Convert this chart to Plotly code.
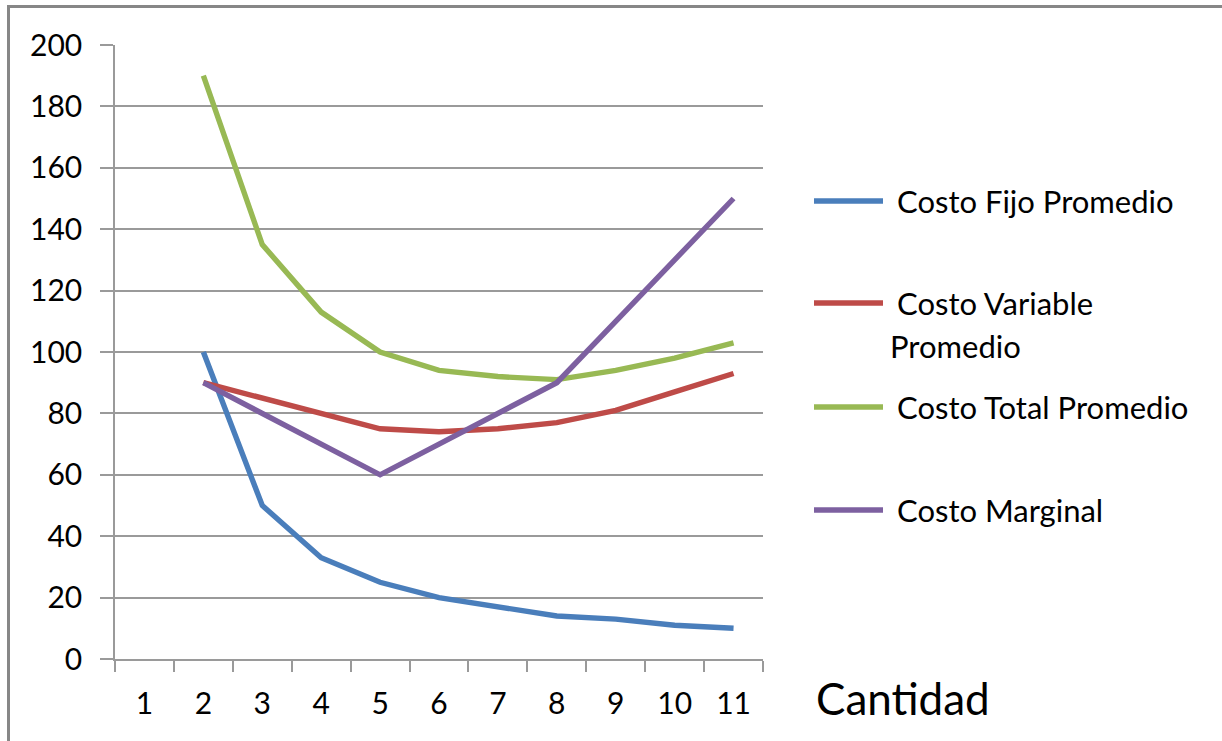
import plotly.graph_objects as go

# Quantity categories shown on the horizontal axis
cantidad = [1, 2, 3, 4, 5, 6, 7, 8, 9, 10, 11]
x_datos = [2, 3, 4, 5, 6, 7, 8, 9, 10, 11]

# Cost curves (one value per quantity from 2 to 11)
costo_fijo_promedio = [100, 50, 33, 25, 20, 17, 14, 13, 11, 10]
costo_variable_promedio = [90, 85, 80, 75, 74, 75, 77, 81, 87, 93]
costo_total_promedio = [190, 135, 113, 100, 94, 92, 91, 94, 98, 103]
costo_marginal = [90, 80, 70, 60, 70, 80, 90, 110, 130, 150]

series_nombres = ["Costo Fijo Promedio", "Costo Variable<br>Promedio",
                  "Costo Total Promedio", "Costo Marginal"]
series_valores = [costo_fijo_promedio, costo_variable_promedio,
                  costo_total_promedio, costo_marginal]
series_colores = ["#4a7ebb", "#be4b48", "#98b954", "#7d60a0"]

y_ticks = [0, 20, 40, 60, 80, 100, 120, 140, 160, 180, 200]

W, H = 1222, 741
L, R, T, B = 115, 763, 45, 659  # plot area in pixels

def px(x):
    return (x - L) / (R - L)

def py(y):
    return (B - y) / (B - T)

FONT = "Lato"
GRID = "#9a9a9a"

fig = go.Figure()
for nombre, valores, color in zip(series_nombres, series_valores, series_colores):
    fig.add_trace(go.Scatter(
        x=x_datos, y=valores, mode="lines", name=nombre,
        line=dict(color=color, width=5.4),
        showlegend=False,
    ))

fig.update_layout(
    width=W, height=H,
    margin=dict(l=L, r=W - R, t=T, b=H - B, pad=0),
    paper_bgcolor="white", plot_bgcolor="white",
    font=dict(family=FONT, color="#000000"),
    xaxis=dict(
        range=[0.5, 11.5], tickmode="array", tickvals=cantidad,
        ticktext=[str(c) for c in cantidad],
        ticks="", showgrid=False, zeroline=False,
        showline=True, linecolor=GRID, linewidth=1.5,
        tickfont=dict(size=30, family=FONT), ticklabelstandoff=17,
        minor=dict(tickmode="array", tickvals=[c - 0.5 for c in cantidad] + [11.5],
                   ticks="outside", ticklen=11, tickcolor=GRID, tickwidth=1.5,
                   showgrid=False),
    ),
    yaxis=dict(
        range=[0, 200], tickmode="array", tickvals=y_ticks,
        showgrid=True, gridcolor=GRID, gridwidth=1.5, zeroline=False,
        showline=True, linecolor=GRID, linewidth=1.5,
        ticks="outside", ticklen=13, tickcolor=GRID, tickwidth=1.5,
        tickfont=dict(size=30, family=FONT), ticklabelstandoff=12,
    ),
)

# Legend drawn beside the plot area
leyenda_y = [201, 303, 407, 510]
for nombre, color, yl in zip(series_nombres, series_colores, leyenda_y):
    fig.add_shape(type="line", xref="paper", yref="paper",
                  x0=px(814), x1=px(883), y0=py(yl), y1=py(yl),
                  line=dict(color=color, width=5.5))
for nombre, yl in [("Costo Fijo Promedio", 201), ("Costo Variable", 303),
                   ("Promedio", 346), ("Costo Total Promedio", 407),
                   ("Costo Marginal", 510)]:
    x0 = 888 if nombre == "Promedio" else 895
    fig.add_annotation(text=nombre, xref="paper", yref="paper",
                       x=px(x0), y=py(yl), xanchor="left", yanchor="middle",
                       showarrow=False, font=dict(size=31, family=FONT, color="#000"))

# Axis title
fig.add_annotation(text="Cantidad", xref="paper", yref="paper",
                   x=px(814), y=py(698), xanchor="left", yanchor="middle",
                   showarrow=False, font=dict(size=44, family=FONT, color="#000"))

# Frame lines on top and left
fig.add_shape(type="line", xref="paper", yref="paper",
              x0=px(7), x1=px(W + 5), y0=py(6.5), y1=py(6.5),
              line=dict(color="#878787", width=3))
fig.add_shape(type="line", xref="paper", yref="paper",
              x0=px(8.5), x1=px(8.5), y0=py(5), y1=py(H + 5),
              line=dict(color="#878787", width=3))

fig.write_html("out.html")
